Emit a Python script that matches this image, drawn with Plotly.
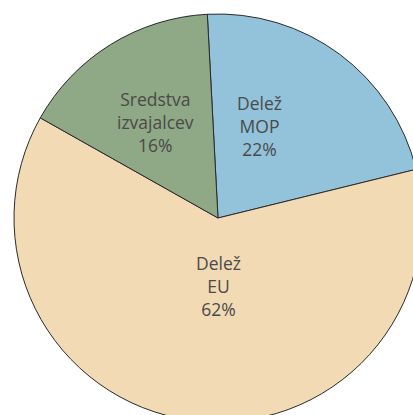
import plotly.graph_objects as go

labels = ["Delež<br>MOP", "Delež<br>EU", "Sredstva<br>izvajalcev"]
values = [22, 62, 16]
colors = ["#93c3db", "#f2dab4", "#8fa886"]
label_pos = [(0.6005, 0.7255), (0.5, 0.333), (0.3456, 0.735)]

fig = go.Figure(go.Pie(
    labels=labels,
    values=values,
    sort=False,
    direction="clockwise",
    rotation=-3,
    marker=dict(colors=colors, line=dict(color="#2a2a2a", width=1)),
    textinfo="none",
    hoverinfo="none",
    showlegend=False,
))

total = sum(values)
for lab, val, (ax, ay) in zip(labels, values, label_pos):
    fig.add_annotation(
        x=ax, y=ay, xref="paper", yref="paper",
        xanchor="center", yanchor="middle",
        text=f"{lab}<br>{round(100 * val / total)}%",
        showarrow=False,
        font=dict(family="Open Sans", size=17.5, color="#4a4a4a"),
        align="center",
    )

fig.update_layout(
    width=436, height=436,
    margin=dict(l=14, r=14, t=14, b=14),
    paper_bgcolor="white",
    plot_bgcolor="white",
)

fig.write_html(
    "out.html",
    config={"displayModeBar": False},
    post_script="document.body.style.overflow='hidden';document.body.style.margin='0';",
)
